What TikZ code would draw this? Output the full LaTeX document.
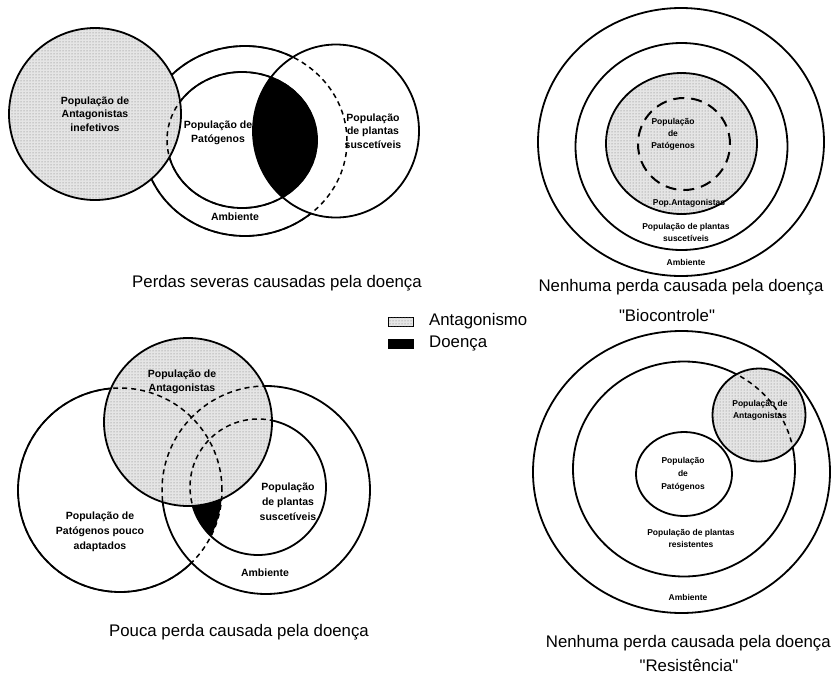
\documentclass[tikz,border=0pt]{standalone}
\usepackage{fontspec}
\setmainfont{Liberation Sans}
\newfontfamily\plainq{Liberation Sans}
\usetikzlibrary{patterns}
\tikzset{
  ring/.style={draw=black,line width=1.8pt},
  hid/.style={draw=black,line width=1.5pt,dash pattern=on 5pt off 4pt},
  longhid/.style={draw=black,line width=2pt,dash pattern=on 11pt off 7pt},
  antfill/.style={fill=black!10},
  antdots/.style={pattern=dots,pattern color=black!55},
  outerframe/.style={insert path={(0,0) -- (831,0) -- (831,-678) -- (0,-678) -- cycle}},
  lbl/.style={font=\fontsize{10.5}{13.5}\selectfont\bfseries,align=center,inner sep=0pt},
  slbl/.style={font=\fontsize{8.5}{12}\selectfont\bfseries,align=center,inner sep=0pt},
  captxt/.style={font=\fontsize{16.8}{20}\selectfont,inner sep=0pt},
  swatch/.style={draw=black,line width=0.8pt}
}

\begin{document}
\begin{tikzpicture}[x=1pt,y=1pt]
  \useasboundingbox (0,0) rectangle (831,-678);
  \fill[white] (0,0) rectangle (831,-678);

  % perdas severas
  \coordinate (tlAnt) at (95,-114);
  \coordinate (tlAmb) at (245,-141);
  \coordinate (tlPat) at (242,-140);
  \coordinate (tlPla) at (336,-131);
  \begin{scope}
    \clip (tlPat) ellipse [x radius=75,y radius=68];
    \fill[black] (tlPla) ellipse [x radius=83,y radius=86.5];
  \end{scope}
  \draw[hid] (tlAmb) ellipse [x radius=102,y radius=95];
  \begin{scope}
    \clip[outerframe] (tlPla) ellipse [x radius=83,y radius=86.5];
    \draw[ring] (tlAmb) ellipse [x radius=102,y radius=95];
  \end{scope}
  \fill[antfill] (tlAnt) circle (86);
  \fill[antdots] (tlAnt) circle (86);
  \draw[ring] (tlAnt) circle (86);
  \draw[hid] (tlPat) ellipse [x radius=75,y radius=68];
  \begin{scope}
    \clip[outerframe] (tlAnt) circle (86);
    \draw[ring] (tlPat) ellipse [x radius=75,y radius=68];
  \end{scope}
  \draw[ring] (tlPla) ellipse [x radius=83,y radius=86.5];
  \node[lbl] (tlAntLbl) at (95,-114) {População de\\Antagonistas\\inefetivos};
  \node[lbl] (tlPatLbl) at (218,-133) {População de\\Patógenos};
  \node[lbl] (tlPlaLbl) at (373,-131) {População\\de plantas\\suscetíveis};
  \node[lbl] (tlAmbLbl) at (235,-217) {Ambiente};
  \node[captxt] (tlCap) at (277,-283) {Perdas severas causadas pela doença};

  % biocontrole
  \coordinate (trOut) at (681,-142);
  \coordinate (trPla) at (681.5,-146.5);
  \coordinate (trAnt) at (681.5,-143.5);
  \coordinate (trPat) at (684,-144);
  \draw[ring] (trOut) ellipse [x radius=143,y radius=134];
  \draw[ring] (trPla) ellipse [x radius=106,y radius=103.5];
  \fill[antfill] (trAnt) ellipse [x radius=75.5,y radius=70.5];
  \fill[antdots] (trAnt) ellipse [x radius=75.5,y radius=70.5];
  \draw[ring] (trAnt) ellipse [x radius=75.5,y radius=70.5];
  \draw[longhid] (trPat) circle (46);
  \node[slbl] (trPatLbl) at (673,-134) {População\\de\\Patógenos};
  \node[slbl] (trAntLbl) at (689,-203) {Pop.Antagonistas};
  \node[slbl] (trPlaLbl) at (686,-232) {População de plantas\\suscetíveis};
  \node[slbl] (trAmbLbl) at (686,-262) {Ambiente};
  \node[captxt] (trCap) at (681,-287) {Nenhuma perda causada pela doença};
  \node[captxt] (trCapB) at (667,-315) {{\plainq"}Biocontrole{\plainq"}};

  % legenda
  \node[swatch,antfill,minimum width=25pt,minimum height=9pt,inner sep=0pt] (legAnt) at (400.5,-321.5) {};
  \fill[antdots] (legAnt.south west) rectangle (legAnt.north east);
  \node[swatch,fill=black,minimum width=25pt,minimum height=9pt,inner sep=0pt] (legDis) at (400.5,-343.5) {};
  \node[captxt,anchor=west] (legAntTxt) at (429,-321) {Antagonismo};
  \node[captxt,anchor=west] (legDisTxt) at (429,-343) {Doença};

  % pouca perda
  \coordinate (blPat) at (120,-490);
  \coordinate (blAmb) at (266,-490);
  \coordinate (blPla) at (258,-487);
  \coordinate (blAnt) at (188,-422);
  \begin{scope}
    \clip (blPat) circle (102);
    \fill[black] (blPla) circle (68);
  \end{scope}
  \draw[hid] (blPat) circle (102);
  \begin{scope}
    \clip[outerframe] (blAmb) circle (104);
    \draw[ring] (blPat) circle (102);
  \end{scope}
  \draw[ring] (blAmb) circle (104);
  \draw[ring] (blPla) circle (68);
  \fill[antfill] (blAnt) circle (84);
  \fill[antdots] (blAnt) circle (84);
  \begin{scope}
    \clip (blAnt) circle (84);
    \draw[hid] (blPat) circle (102);
    \draw[hid] (blAmb) circle (104);
    \draw[hid] (blPla) circle (68);
  \end{scope}
  \draw[ring] (blAnt) circle (84);
  \node[lbl] (blAntLbl) at (182,-382) {População de\\Antagonistas};
  \node[lbl,font=\fontsize{10.5}{15}\selectfont\bfseries] (blPatLbl) at (100,-532) {População de\\Patógenos pouco\\adaptados};
  \node[lbl,font=\fontsize{10.5}{15}\selectfont\bfseries] (blPlaLbl) at (288,-502) {População\\de plantas\\suscetíveis};
  \node[lbl] (blAmbLbl) at (265,-573) {Ambiente};
  \node[captxt] (blCap) at (239,-632) {Pouca perda causada pela doença};

  % resistencia
  \coordinate (brOut) at (681.5,-472);
  \coordinate (brPla) at (684,-469);
  \coordinate (brPat) at (684,-474);
  \coordinate (brAnt) at (759,-415);
  \draw[ring] (brOut) ellipse [x radius=148.5,y radius=141];
  \draw[ring] (brPla) ellipse [x radius=111,y radius=107.5];
  \draw[ring] (brPat) ellipse [x radius=48,y radius=42];
  \fill[antfill] (brAnt) circle (46.5);
  \fill[antdots] (brAnt) circle (46.5);
  \begin{scope}
    \clip (brAnt) circle (46.5);
    \draw[hid] (brPla) ellipse [x radius=111,y radius=107.5];
  \end{scope}
  \draw[ring] (brAnt) circle (46.5);
  \node[slbl] (brAntLbl) at (760,-410) {População de\\Antagonistas};
  \node[slbl,font=\fontsize{8.5}{13}\selectfont\bfseries] (brPatLbl) at (683,-474) {População\\de\\Patógenos};
  \node[slbl] (brPlaLbl) at (691,-538) {População de plantas\\resistentes};
  \node[slbl] (brAmbLbl) at (688,-597) {Ambiente};
  \node[captxt,anchor=east] (brCap) at (831,-643) {Nenhuma perda causada pela doença};
  \node[captxt] (brCapB) at (689,-665) {{\plainq"}Resistência{\plainq"}};
\end{tikzpicture}
\end{document}
